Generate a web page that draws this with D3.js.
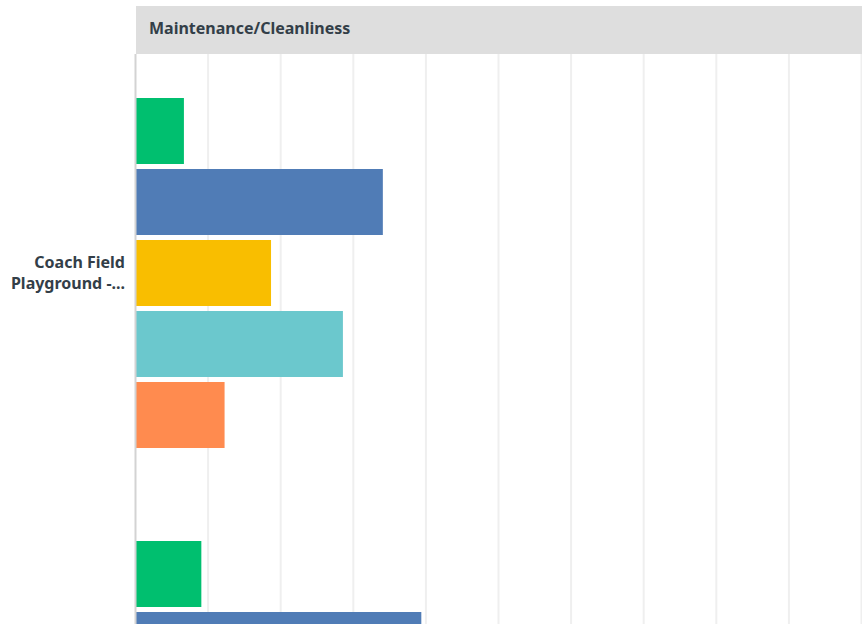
<!DOCTYPE html>
<html>
<head>
<meta charset="utf-8">
<script src="https://cdnjs.cloudflare.com/ajax/libs/d3/7.8.5/d3.min.js"></script>
<style>
  body { margin: 0; background: #fff; }
  svg { display: block; }
</style>
</head>
<body>
<div id="chart-area"></div>
<script>
// data (percent of responses)
let groups = ["Coach Field Playground -...", ""];
let series = ["s1", "s2", "s3", "s4", "s5"];
let colors = ["#00bf6f", "#507cb6", "#f9be00", "#6bc8cd", "#ff8b4f"];
let values = [
    [6.6, 34.0, 18.6, 28.5, 12.2],
    [9.0, 39.3, null, null, null]
];
let ticks = [0, 10, 20, 30, 40, 50, 60, 70, 80, 90, 100];
let title = "Maintenance/Cleanliness";

let W = 862, H = 624;
let mLeft = 136, mRight = 862, mTop = 52;
let groupStep = 443;

let svg = d3.select("#chart-area")
    .append("svg")
        .attr("width", W)
        .attr("height", H);

let x = d3.scaleLinear()
    .domain([0, 100])
    .range([mLeft, mRight]);

let y0 = d3.scaleBand()
    .domain(groups)
    .range([mTop, mTop + groupStep * groups.length]);

let y1 = d3.scaleBand()
    .domain(series)
    .range([46, 396])
    .paddingInner(5 / 71);

// gridlines
svg.append("g")
    .selectAll("line")
    .data(ticks.slice(1))
    .enter()
    .append("line")
        .attr("x1", d => x(d) - 0.5)
        .attr("x2", d => x(d) - 0.5)
        .attr("y1", 54)
        .attr("y2", H)
        .attr("stroke", "#efefef")
        .attr("stroke-width", 2);

// header band
svg.append("rect")
    .attr("x", mLeft)
    .attr("y", 6)
    .attr("width", mRight - mLeft)
    .attr("height", 48)
    .attr("fill", "#dedede");

svg.append("text")
    .attr("x", 149)
    .attr("y", 34)
    .attr("font-family", "'Noto Sans', sans-serif")
    .attr("font-size", "16px")
    .attr("font-weight", "bold")
    .attr("fill", "#333e48")
    .text(title);

// bars
let g = svg.selectAll(".group")
    .data(groups)
    .enter()
    .append("g")
        .attr("class", "group")
        .attr("transform", d => `translate(0, ${y0(d)})`);

g.selectAll("rect")
    .data((d, i) => values[i].map((v, j) => ({ s: series[j], v: v, c: colors[j] })).filter(e => e.v != null))
    .enter()
    .append("rect")
        .attr("x", x(0))
        .attr("y", d => y1(d.s))
        .attr("width", d => x(d.v) - x(0))
        .attr("height", y1.bandwidth())
        .attr("fill", d => d.c);

// axis line
svg.append("line")
    .attr("x1", mLeft - 0.5)
    .attr("x2", mLeft - 0.5)
    .attr("y1", 54)
    .attr("y2", H)
    .attr("stroke", "#d3d3d3")
    .attr("stroke-width", 2);

// category labels
let labels = g.filter(d => d !== "")
    .append("text")
    .attr("text-anchor", "end")
    .attr("font-family", "'Noto Sans', sans-serif")
    .attr("font-size", "16px")
    .attr("font-weight", "bold")
    .attr("fill", "#333e48");

labels.each(function (d) {
    let lines = d === groups[0] ? ["Coach Field", "Playground -..."] : [d];
    let t = d3.select(this);
    let mid = 46 + 175;
    lines.forEach((l, i) => {
        t.append("tspan")
            .attr("x", 125)
            .attr("y", mid - (lines.length - 1) * 10.5 + i * 21 + 5)
            .text(l);
    });
});
</script>
</body>
</html>
